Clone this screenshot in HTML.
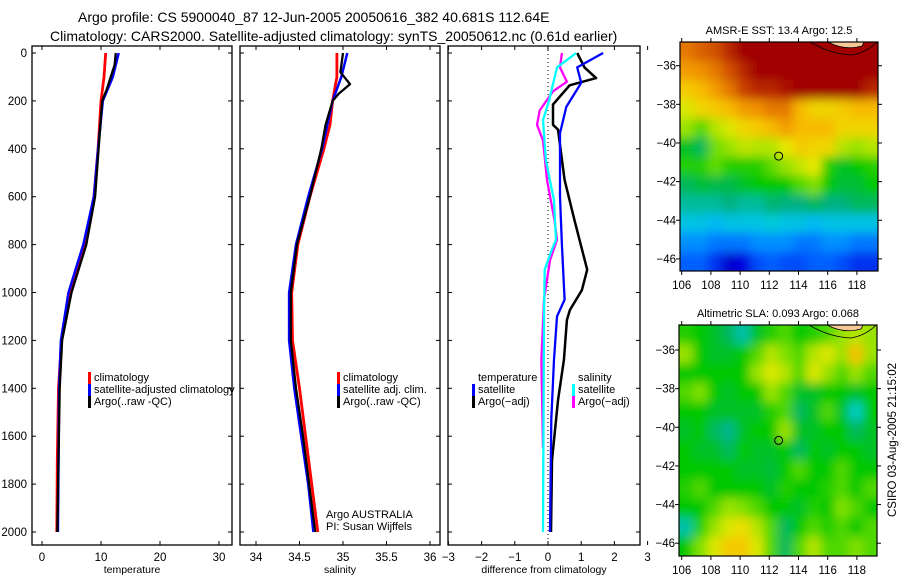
<!DOCTYPE html>
<html><head><meta charset="utf-8"><style>
html,body{margin:0;padding:0;background:#fff;}
svg{display:block;font-family:"Liberation Sans",sans-serif;}
</style></head><body>
<svg id="fig" width="900" height="580" viewBox="0 0 900 580" xmlns="http://www.w3.org/2000/svg">
<defs>
<filter id="blur" x="-5%" y="-5%" width="110%" height="110%"><feGaussianBlur stdDeviation="5"/></filter>
<clipPath id="clip1"><rect x="680" y="42" width="198" height="229"/></clipPath>
<clipPath id="clip2"><rect x="679" y="325" width="198" height="231"/></clipPath>
</defs>
<text x="78" y="22" font-size="14">Argo profile: CS 5900040_87 12-Jun-2005 20050616_382 40.681S 112.64E</text>
<text x="50" y="41" font-size="14">Climatology: CARS2000. Satellite-adjusted climatology: synTS_20050612.nc (0.61d earlier)</text>
<g id="panels"></g>
<g id="maps"></g>
<text transform="translate(896,440) rotate(-90)" font-size="11.5" text-anchor="middle">CSIRO 03-Aug-2005 21:15:02</text>
</svg>
<script>
// ---- depth axis ----
const depthTicks = [0,200,400,600,800,1000,1200,1400,1600,1800,2000];
// ---- temperature panel ----
const tempTicks = [0,10,20,30];
const tempClimDepth = [0,100,200,400,600,800,1000,1200,1400,1700,2000];
const tempClim = [10.8,10.5,10.0,9.5,8.8,7.2,4.8,3.3,2.8,2.6,2.5];
const tempSatDepth = [0,100,200,400,600,800,1000,1200,1400,2000];
const tempSat = [13.0,12.0,10.3,9.5,8.8,7.0,4.5,3.2,2.9,2.7];
const tempArgoDepth = [0,50,150,200,400,600,800,1000,1200,1400,2000];
const tempArgo = [12.5,12.3,11.0,10.2,9.6,9.0,7.5,5.0,3.4,3.0,2.6];
// ---- salinity panel ----
const salTicks = [34,34.5,35,35.5,36];
const salClimDepth = [0,100,200,300,400,600,800,1000,1200,1400,1600,1800,2000];
const salClim = [34.93,34.93,34.88,34.85,34.78,34.62,34.48,34.41,34.42,34.50,34.57,34.64,34.71];
const salSatDepth = [0,100,200,400,600,800,1000,1200,1400,1600,1800,2000];
const salSat = [35.05,34.98,34.88,34.76,34.60,34.46,34.38,34.38,34.44,34.52,34.60,34.66];
const salArgoDepth = [0,80,130,170,200,300,400,600,800,1000,1200,1400,1600,1800,2000];
const salArgo = [35.0,34.97,35.08,34.95,34.88,34.80,34.75,34.62,34.47,34.40,34.40,34.46,34.54,34.61,34.68];
// ---- difference panel ----
const diffTicks = [-3,-2,-1,0,1,2,3];
const dTSatDepth = [0,60,125,225,335,600,800,1030,1100,1280,1530,2000];
const dTSat = [1.66,0.88,1.0,0.55,0.36,0.36,0.42,0.5,0.27,0.18,0.1,0.06];
const dTArgoDepth = [0,60,105,135,215,300,320,530,700,905,990,1073,1115,1282,1450,1575,1700,2000];
const dTArgo = [0.88,1.1,1.45,0.65,0.15,0.15,0.3,0.5,0.8,1.18,1.02,0.66,0.57,0.48,0.3,0.21,0.12,0.09];
const dSSatDepth = [0,60,200,280,450,615,780,820,905,1100,2000];
const dSSat = [0.85,0.27,0.03,-0.15,-0.06,0.18,0.24,0.12,-0.1,-0.12,-0.15];
const dSArgoDepth = [0,60,120,160,240,300,365,530,700,780,865,1030,1280,1650];
const dSArgo = [0.42,0.36,0.57,0.15,-0.25,-0.33,-0.15,-0.03,0.2,0.27,0.06,-0.12,-0.2,-0.15];
// ---- maps ----
const lonTicks = [106,108,110,112,114,116,118];
const latTicks = [-36,-38,-40,-42,-44,-46];
const sstGrid = [
[0.85,0.88,0.9,0.95,1,1,1,1,1,1,1,1,1,1],
[0.8,0.82,0.85,0.9,0.95,1,1,1,1,1,1,1,1,1],
[0.72,0.75,0.8,0.85,0.92,0.95,0.95,0.98,1,1,1,1,1,0.95],
[0.65,0.7,0.72,0.75,0.8,0.82,0.85,0.85,0.75,0.7,0.7,0.72,0.75,0.75],
[0.6,0.55,0.62,0.65,0.7,0.72,0.75,0.8,0.75,0.75,0.75,0.7,0.7,0.7],
[0.48,0.45,0.57,0.6,0.63,0.62,0.62,0.66,0.72,0.7,0.7,0.62,0.6,0.62],
[0.52,0.52,0.56,0.52,0.52,0.52,0.56,0.6,0.63,0.66,0.52,0.48,0.5,0.52],
[0.45,0.47,0.46,0.46,0.48,0.5,0.5,0.5,0.55,0.58,0.5,0.47,0.47,0.5],
[0.41,0.41,0.41,0.43,0.41,0.41,0.44,0.43,0.43,0.45,0.43,0.43,0.45,0.45],
[0.34,0.34,0.32,0.34,0.34,0.34,0.36,0.34,0.34,0.32,0.34,0.34,0.34,0.34],
[0.26,0.26,0.23,0.23,0.23,0.26,0.26,0.26,0.23,0.23,0.26,0.26,0.23,0.23],
[0.2,0.2,0.15,0.08,0.1,0.18,0.2,0.18,0.18,0.2,0.2,0.18,0.15,0.15]];
const slaGrid = [
[0.52,0.5,0.48,0.45,0.4,0.48,0.52,0.55,0.5,0.52,0.55,0.6,0.62,0.6],
[0.6,0.5,0.48,0.48,0.5,0.55,0.62,0.58,0.55,0.62,0.65,0.6,0.74,0.6],
[0.5,0.5,0.5,0.5,0.5,0.6,0.65,0.62,0.55,0.65,0.6,0.55,0.6,0.55],
[0.55,0.58,0.5,0.48,0.5,0.5,0.6,0.55,0.48,0.48,0.5,0.5,0.48,0.5],
[0.5,0.5,0.48,0.48,0.48,0.48,0.52,0.55,0.45,0.48,0.55,0.48,0.38,0.5],
[0.48,0.5,0.45,0.42,0.48,0.5,0.5,0.6,0.48,0.48,0.5,0.5,0.45,0.48],
[0.5,0.48,0.48,0.45,0.5,0.48,0.48,0.5,0.45,0.5,0.48,0.5,0.5,0.48],
[0.5,0.5,0.5,0.5,0.48,0.48,0.47,0.5,0.55,0.5,0.5,0.55,0.5,0.5],
[0.52,0.55,0.5,0.5,0.5,0.5,0.48,0.52,0.5,0.5,0.52,0.55,0.5,0.55],
[0.5,0.5,0.55,0.6,0.58,0.55,0.5,0.5,0.48,0.52,0.5,0.58,0.55,0.5],
[0.4,0.52,0.6,0.65,0.68,0.62,0.55,0.45,0.5,0.55,0.52,0.55,0.5,0.55],
[0.5,0.58,0.65,0.72,0.72,0.65,0.55,0.45,0.55,0.62,0.55,0.55,0.58,0.55]];
const argoPos = [112.64,-40.68];

const NS="http://www.w3.org/2000/svg";
function mk(tag,attrs,parent,text){const e=document.createElementNS(NS,tag);for(const k in attrs)e.setAttribute(k,attrs[k]);if(text!==undefined)e.textContent=text;parent.appendChild(e);return e;}
const panels=document.getElementById('panels');
const yD=d=>53+0.2395*d;
const TOP=46,BOT=545;

function panel(name,x0,x1,xs,ticks,tickFmt,xlabel,showY){
  const g=mk('g',{},panels);
  
  
  const fr=mk('rect',{x:x0,y:TOP,width:x1-x0,height:BOT-TOP,fill:'none',stroke:'#000','stroke-width':1.3},g);
  
  
  ticks.forEach(t=>{const x=xs(t);
    mk('line',{x1:x,x2:x,y1:BOT,y2:BOT-4,stroke:'#000'},g);
    mk('line',{x1:x,x2:x,y1:TOP,y2:TOP+4,stroke:'#000'},g);
    const tl=mk('text',{x:x,y:BOT+16,'font-size':11.5,'text-anchor':'middle'},g,tickFmt(t));
    
    
  });
  depthTicks.forEach(d=>{const y=yD(d);
    mk('line',{x1:x0,x2:x0+4,y1:y,y2:y,stroke:'#000'},g);
    mk('line',{x1:x1,x2:x1-4,y1:y,y2:y,stroke:'#000'},g);
    if(showY){const tl=mk('text',{x:x0-5,y:y+4,'font-size':11.5,'text-anchor':'end'},g,String(d));
      
      }
  });
  const xl=mk('text',{x:(x0+x1)/2,y:BOT+28,'font-size':10.5,'text-anchor':'middle'},g,xlabel);
  
  
  return g;
}
function series(g,name,depths,vals,xs,color,w){
  const pts=depths.map((d,i)=>xs(vals[i]).toFixed(1)+','+yD(d).toFixed(1)).join(' ');
  const p=mk('polyline',{points:pts,fill:'none',stroke:color,'stroke-width':w,'stroke-linejoin':'round'},g);
  
  
}
function legend(g,x,y,color,label,name){
  if(color){const b=mk('rect',{x:x,y:y-9,width:3,height:12,fill:color},g);
    
    }
  const t=mk('text',{x:x+6,y:y,'font-size':11},g,label);
  
  
}
// Temperature panel
const xT=v=>42+5.9*v;
const gT=panel('temperature-panel',32,232,xT,tempTicks,String,'temperature',true);
series(gT,'temp-climatology-line',tempClimDepth,tempClim,xT,'#ff0000',2.8);
series(gT,'temp-satellite-line',tempSatDepth,tempSat,xT,'#0000ff',2.5);
series(gT,'temp-argo-line',tempArgoDepth,tempArgo,xT,'#000',2.3);
legend(gT,88,381,'#ff0000','climatology','legend-climatology');
legend(gT,88,393,'#0000ff','satellite-adjusted climatology','legend-satellite');
legend(gT,88,405,'#000','Argo(..raw -QC)','legend-argo');
// Salinity panel
const xS=v=>256+87*(v-34);
const gS=panel('salinity-panel',240,440,xS,salTicks,String,'salinity',false);
series(gS,'sal-climatology-line',salClimDepth,salClim,xS,'#ff0000',2.8);
series(gS,'sal-satellite-line',salSatDepth,salSat,xS,'#0000ff',2.5);
series(gS,'sal-argo-line',salArgoDepth,salArgo,xS,'#000',2.3);
legend(gS,337,381,'#ff0000','climatology','legend-climatology');
legend(gS,337,393,'#0000ff','satellite adj. clim.','legend-satellite');
legend(gS,337,405,'#000','Argo(..raw -QC)','legend-argo');
const a1=mk('text',{x:326,y:518,'font-size':11},gS,'Argo AUSTRALIA');


const a2=mk('text',{x:326,y:530,'font-size':11},gS,'PI: Susan Wijffels');


// Difference panel
const xDf=v=>548+33.2*v;
const gD=panel('difference-panel',448,640,xDf,diffTicks,t=>t<0?'\u2212'+(-t):String(t),'difference from climatology',false);
mk('line',{x1:xDf(0),x2:xDf(0),y1:TOP,y2:BOT,stroke:'#000','stroke-dasharray':'1,3'},gD);
series(gD,'diff-temp-argo-line',dTArgoDepth,dTArgo,xDf,'#000',2.5);
series(gD,'diff-temp-satellite-line',dTSatDepth,dTSat,xDf,'#0000ff',2.3);
series(gD,'diff-sal-argo-line',dSArgoDepth,dSArgo,xDf,'#ff00ff',2.3);
series(gD,'diff-sal-satellite-line',dSSatDepth,dSSat,xDf,'#00ffff',2.3);
legend(gD,472,381,null,'temperature','legend-temperature-heading');
legend(gD,472,393,'#0000ff','satellite','legend-temp-satellite');
legend(gD,472,405,'#000','Argo(\u2212adj)','legend-temp-argo');
legend(gD,572,381,null,'salinity','legend-salinity-heading');
legend(gD,572,393,'#00ffff','satellite','legend-sal-satellite');
legend(gD,572,405,'#ff00ff','Argo(\u2212adj)','legend-sal-argo');

// ---- maps ----
const stops=[[0,[0,0,128]],[0.1,[0,0,224]],[0.2,[0,96,255]],[0.3,[0,176,255]],[0.37,[0,208,208]],[0.43,[0,176,128]],[0.5,[0,200,0]],[0.58,[128,224,0]],[0.66,[232,232,0]],[0.74,[248,192,0]],[0.82,[240,144,0]],[0.9,[208,80,0]],[1,[160,0,0]]];
function cmap(v){v=Math.max(0,Math.min(1,v));for(let i=1;i<stops.length;i++){if(v<=stops[i][0]){const a=stops[i-1],b=stops[i];const f=(v-a[0])/(b[0]-a[0]);const c=a[1].map((q,k)=>Math.round(q+(b[1][k]-q)*f));return 'rgb('+c.join(',')+')';}}return 'rgb(160,0,0)';}
const maps=document.getElementById('maps');
function drawMap(name,grid,x0,y0,w,h,lat36y,title,clip){
  const g=mk('g',{},maps);
  
  
  const lonX=lon=>681.7+(lon-106)*14.6;
  const latY=lat=>lat36y+(-36-lat)*19.32;
  const cg=mk('g',{'clip-path':'url(#'+clip+')'},g);
  const bg=mk('g',{filter:'url(#blur)'},cg);
  const rows=grid.length,cols=grid[0].length,cw=w/cols,ch=h/rows;
  grid.forEach((row,r)=>row.forEach((v,c)=>{
    let x=x0+c*cw,y=y0+r*ch,ww=cw+0.6,hh=ch+0.6;
    if(c===0){x-=14;ww+=14;} if(c===cols-1){ww+=14;}
    if(r===0){y-=14;hh+=14;} if(r===rows-1){hh+=14;}
    const cell=mk('rect',{x:x,y:y,width:ww,height:hh,fill:cmap(v)},bg);
    
    
  }));
  const land=mk('path',{d:`M${x0+148},${y0} Q${x0+165},${y0+9} ${x0+182},${y0+4} L${x0+184},${y0} Z`,fill:'#f8c898',stroke:'#000','stroke-width':0.8},cg);
  
  
  mk('path',{d:`M${x0+130},${y0} Q${x0+150},${y0+12} ${x0+172},${y0+13} Q${x0+188},${y0+10} ${w+x0},${y0-1}`,fill:'none',stroke:'#000','stroke-width':0.8},cg);
  const fr=mk('rect',{x:x0,y:y0,width:w,height:h,fill:'none',stroke:'#000','stroke-width':1.2},g);
  
  
  lonTicks.forEach(l=>{const x=lonX(l);
    mk('line',{x1:x,x2:x,y1:y0+h,y2:y0+h+4,stroke:'#000'},g);
    mk('line',{x1:x,x2:x,y1:y0,y2:y0-4,stroke:'#000'},g);
    const t=mk('text',{x:x,y:y0+h+18,'font-size':11.5,'text-anchor':'middle'},g,String(l));
    
    });
  latTicks.forEach(l=>{const y=latY(l);
    mk('line',{x1:x0,x2:x0-4,y1:y,y2:y,stroke:'#000'},g);
    mk('line',{x1:x0+w,x2:x0+w+4,y1:y,y2:y,stroke:'#000'},g);
    const t=mk('text',{x:x0-4,y:y+4,'font-size':11.5,'text-anchor':'end'},g,'\u2212'+(-l));
    
    });
  const c=mk('circle',{cx:lonX(argoPos[0]),cy:latY(argoPos[1]),r:4,fill:'none',stroke:'#000','stroke-width':1},g);
  
  
  const tt=mk('text',{x:x0+w/2,y:y0-8,'font-size':11,'text-anchor':'middle'},g,title);
  
  
}
drawMap('sst-map',sstGrid,680,42,198,229,65.7,'AMSR-E SST: 13.4 Argo: 12.5','clip1');
drawMap('sla-map',slaGrid,679,325,198,231,350,'Altimetric SLA: 0.093 Argo: 0.068','clip2');
</script>
</body></html>
